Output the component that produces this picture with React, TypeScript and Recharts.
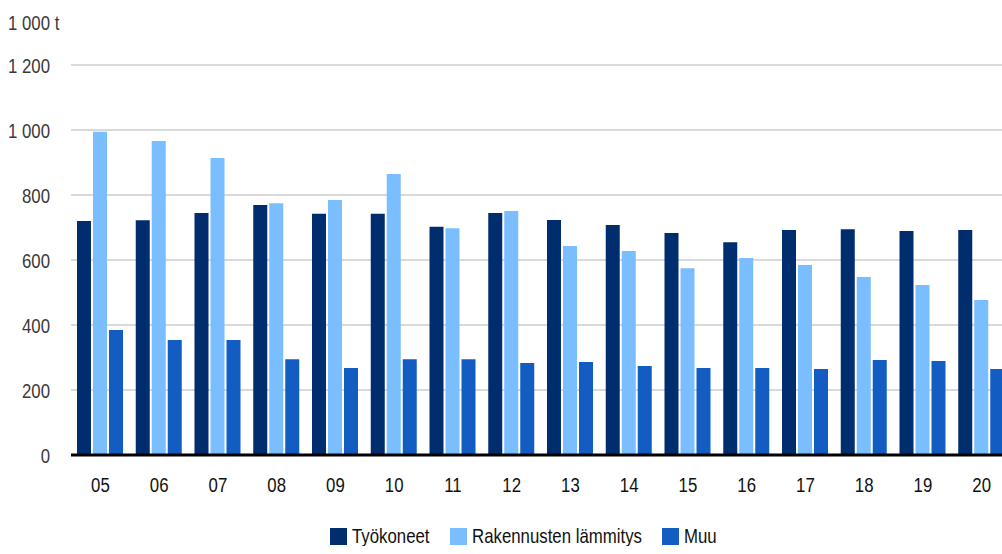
import { BarChart, Bar, XAxis, YAxis, CartesianGrid, Legend } from 'recharts'

const years = ['05', '06', '07', '08', '09', '10', '11', '12', '13', '14', '15', '16', '17', '18', '19', '20']
const tyokoneet = [720, 722, 745, 769, 742, 742, 702, 745, 723, 708, 683, 655, 692, 695, 689, 692]
const lammitys = [995, 966, 914, 775, 785, 865, 698, 751, 643, 628, 575, 606, 585, 548, 523, 477]
const muu = [385, 354, 354, 295, 268, 295, 295, 283, 286, 274, 268, 268, 265, 292, 289, 265]
const yTicks = [0, 200, 400, 600, 800, 1000, 1200]

const series = [
  { key: 'tyokoneet', name: 'Työkoneet', color: '#002d6e', w: 76 },
  { key: 'lammitys', name: 'Rakennusten lämmitys', color: '#7abeff', w: 168 },
  { key: 'muu', name: 'Muu', color: '#125cc2', w: 34 },
]

const data = years.map((y, i) => ({
  year: y,
  tyokoneet: tyokoneet[i],
  lammitys: lammitys[i],
  muu: muu[i],
}))

// no condensed font installed, so squeeze Liberation Sans horizontally
const font = '"Liberation Sans", Arial, sans-serif'
const squeeze = 0.8

const fmt = (v: number) => (v >= 1000 ? `${Math.floor(v / 1000)} ${String(v % 1000).padStart(3, '0')}` : String(v))

function YTick(props: any) {
  const { x, y, payload } = props
  return (
    <g transform={`translate(${x},${y})`}>
      <text transform={`scale(${squeeze},1)`} textAnchor="end" dy="0.36em" fontSize={21} fill="#3a3a3a" fontFamily={font}>
        {fmt(payload.value)}
      </text>
    </g>
  )
}

function XTick(props: any) {
  const { x, y, payload } = props
  return (
    <g transform={`translate(${x},${y})`}>
      <text transform={`scale(${squeeze},1)`} textAnchor="middle" dy={15} fontSize={21} fill="#111" fontFamily={font}>
        {payload.value}
      </text>
    </g>
  )
}

function Squeezed({ children, color }: { children: any; color: string }) {
  return (
    <span style={{ display: 'inline-block', transform: `scaleX(${squeeze})`, transformOrigin: 'left center', color }}>
      {children}
    </span>
  )
}

function LegendContent() {
  return (
    <div style={{ display: 'flex', fontFamily: font, fontSize: 21, lineHeight: '24px', height: 24, paddingLeft: 322, position: 'relative', top: -6 }}>
      {series.map((s) => (
        <div key={s.key} style={{ display: 'flex', alignItems: 'center', marginRight: 22 }}>
          <span style={{ width: 17, height: 17, background: s.color, display: 'inline-block', marginRight: 5 }} />
          <span style={{ width: s.w, whiteSpace: 'nowrap' }}>
            <Squeezed color="#111">{s.name}</Squeezed>
          </span>
        </div>
      ))}
    </div>
  )
}

export default function App() {
  return (
    <div style={{ position: 'relative', left: 8, top: 8, width: 1003, height: 546, fontFamily: font }}>
      <style>{'html { overflow: hidden; } body { margin: 0; }'}</style>
      <div style={{ position: 'absolute', left: 0, top: 3, fontSize: 21, whiteSpace: 'nowrap' }}>
        <Squeezed color="#3a3a3a">1 000 t</Squeezed>
      </div>
      <BarChart
        width={1003}
        height={546}
        data={data}
        margin={{ top: 57, right: 0, bottom: 0, left: 0 }}
        barSize={14}
        barGap={2}
      >
        <CartesianGrid vertical={false} stroke="#d9d9d9" strokeWidth={2} />
        <XAxis
          dataKey="year"
          tickLine={false}
          axisLine={{ stroke: '#000', strokeWidth: 3 }}
          tick={<XTick />}
          tickSize={0}
          tickMargin={22}
          height={75}
        />
        <YAxis
          domain={[0, 1200]}
          ticks={yTicks}
          tickLine={false}
          axisLine={false}
          width={63}
          tick={<YTick />}
          tickSize={0}
          tickMargin={21}
        />
        <Legend verticalAlign="bottom" content={<LegendContent />} wrapperStyle={{ left: 0, width: 994 }} />
        {series.map((s) => (
          <Bar key={s.key} dataKey={s.key} name={s.name} fill={s.color} isAnimationActive={false} />
        ))}
      </BarChart>
    </div>
  )
}
